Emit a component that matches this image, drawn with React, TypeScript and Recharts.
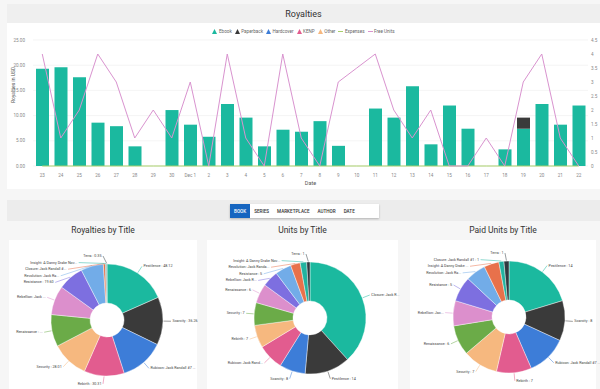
import React from "react";
import {
  ComposedChart,
  Bar,
  Line,
  XAxis,
  YAxis,
  CartesianGrid,
  Legend,
  PieChart,
  Pie,
  Cell,
} from "recharts";

// ---- daily royalties ----
const dates = [
  "23", "24", "25", "26", "27", "28", "29", "30", "Dec 1", "2",
  "3", "4", "5", "6", "7", "8", "9", "10", "11", "12",
  "13", "14", "15", "16", "17", "18", "19", "20", "21", "22",
];
const ebook = [
  19.3, 19.6, 17.6, 8.6, 7.9, 3.9, 0, 11.1, 8.2, 5.8,
  12.3, 9.6, 3.9, 7.2, 6.8, 8.9, 4.0, 0, 11.4, 9.6,
  15.8, 4.3, 12.0, 7.4, 0, 3.3, 7.4, 12.3, 8.2, 12.0,
];
const paperback = [
  0, 0, 0, 0, 0, 0, 0, 0, 0, 0,
  0, 0, 0, 0, 0, 0, 0, 0, 0, 0,
  0, 0, 0, 0, 0, 0, 2.2, 0, 0, 0,
];
const hardcover = [
  0, 0, 0, 0, 0, 0, 0, 0, 0, 0,
  0, 0, 0, 0, 0, 0, 0, 0, 0, 0,
  0, 0, 0, 0, 0, 0, 0, 0, 0, 0,
];
const kenp = [
  0, 0, 0, 0, 0, 0, 0, 0, 0, 0,
  0, 0, 0, 0, 0, 0, 0, 0, 0, 0,
  0, 0, 0, 0, 0, 0, 0, 0, 0, 0,
];
const other = [
  0, 0, 0, 0, 0, 0, 0, 0, 0, 0,
  0, 0, 0, 0, 0, 0, 0, 0, 0, 0,
  0, 0, 0, 0, 0, 0, 0, 0, 0, 0,
];
const expenses = [
  0, 0, 0, 0, 0, 0, 0, 0, 0, 0,
  0, 0, 0, 0, 0, 0, 0, 0, 0, 0,
  0, 0, 0, 0, 0, 0, 0, 0, 0, 0,
];
const freeUnits = [
  4, 1, 2, 4, 3, 1, 2, 1, 3, 0,
  4, 1, 0, 4, 1, 0, 3, 3.5, 4, 2,
  1, 2, 0, 0, 1, 0, 3, 4, 1, 0,
];
const usdTicks = [0, 5, 10, 15, 20, 25];
const unitTicks = [0, 0.5, 1, 1.5, 2, 2.5, 3, 3.5, 4, 4.5];

// ---- by title ----
const royaltyLabels = [
  "Pestilence : 48.12", "Scarcity : 36.26", "Rubicon: Jack Randall #7 ...", "Rebirth : 30.31",
  "Security : 28.01", "Renaissance : ...", "Rebellion: Jack ...", "Resistance : 19.60",
  "Revolution: Jack Ra...", "Closure: Jack Randall #...", "Insight: A Danny Drake Nov...", "Terra : 0.35",
];
const royaltyValues = [48.12, 36.26, 33.5, 30.31, 28.01, 24.2, 22.0, 19.6, 17.0, 1.6, 0.8, 0.35];

const unitLabels = [
  "Closure: Jack R...", "Pestilence : 14", "Scarcity : 8", "Rubicon: Jack Rand...",
  "Rebirth : 7", "Security : 7", "Renaissance : 6", "Rebellion: Jack R...",
  "Resistance : 5", "Revolution: Jack Randa...", "Insight: A Danny Drake Nov...", "Terra : 1",
];
const unitValues = [41, 14, 8, 8, 7, 7, 6, 5, 5, 3, 2, 1];

const paidLabels = [
  "Pestilence : 14", "Scarcity : 8", "Rubicon: Jack Randall #7 ...", "Rebirth : 7",
  "Security : 7", "Renaissance : 6", "Rebellion: Jac...", "Resistance : 5",
  "Revolution: Jack Ra...", "Insight: A Danny Drake ...", "Closure: Jack Randall #1 : 1", "Terra : 1",
];
const paidValues = [14, 8, 8, 7, 7, 6, 5, 5, 4, 3, 1, 1];

const tabs = ["BOOK", "SERIES", "MARKETPLACE", "AUTHOR", "DATE"];

const PALETTE = [
  "#1bb99f", "#3a3a3a", "#3d7dd8", "#e25c8f", "#f6b87f", "#6bab48",
  "#dc8fcc", "#7d6fe0", "#72ace8", "#e8714b", "#22b3a0", "#2e3a40",
];

const C = {
  ebook: "#1bb99f",
  paperback: "#3a3a3a",
  hardcover: "#3d7dd8",
  kenp: "#e25c8f",
  other: "#f6b87f",
  expenses: "#a8cf6a",
  free: "#d993cf",
};

const FONT = "Roboto, 'Noto Sans', sans-serif";

const royaltyRows = dates.map((d, i) => ({
  date: d,
  ebook: ebook[i],
  paperback: paperback[i],
  hardcover: hardcover[i],
  kenp: kenp[i],
  other: other[i],
  expenses: expenses[i],
  freeUnits: freeUnits[i],
}));

const legendItems = [
  { name: "Ebook", color: C.ebook, line: false },
  { name: "Paperback", color: C.paperback, line: false },
  { name: "Hardcover", color: C.hardcover, line: false },
  { name: "KENP", color: C.kenp, line: false },
  { name: "Other", color: C.other, line: false },
  { name: "Expenses", color: C.expenses, line: true },
  { name: "Free Units", color: C.free, line: true },
];

function RoyaltyLegend() {
  return (
    <div style={{ display: "flex", justifyContent: "center", gap: 3, fontFamily: FONT, fontSize: 4.6, color: "#666" }}>
      {legendItems.map((it) => (
        <span key={it.name} style={{ display: "flex", alignItems: "center", gap: 1.5 }}>
          <svg width={5} height={5}>
            {it.line ? (
              <line x1={0} y1={2.5} x2={5} y2={2.5} stroke={it.color} strokeWidth={1} />
            ) : (
              <path d="M2.5 0 L5 5 L0 5 Z" fill={it.color} />
            )}
          </svg>
          {it.name}
        </span>
      ))}
    </div>
  );
}

// label placement: spread labels on each side so they don't overlap
type LabelPos = { x: number; y: number; left: boolean };
function layoutLabels(values: number[], r: number, gap: number): LabelPos[] {
  const total = values.reduce((a, b) => a + b, 0);
  let acc = 0;
  const pos = values.map((v) => {
    const mid = 90 - ((acc + v / 2) / total) * 360;
    acc += v;
    const rad = (mid * Math.PI) / 180;
    return { x: r * Math.cos(rad), y: -r * Math.sin(rad), left: Math.cos(rad) < 0 };
  });
  [true, false].forEach((side) => {
    const idx = pos
      .map((_, i) => i)
      .filter((i) => pos[i].left === side)
      .sort((a, b) => pos[a].y - pos[b].y);
    for (let k = 1; k < idx.length; k++) {
      const prev = pos[idx[k - 1]];
      const cur = pos[idx[k]];
      if (cur.y < prev.y + gap) cur.y = prev.y + gap;
    }
    idx.forEach((i) => {
      const p = pos[i];
      const dx = Math.sqrt(Math.max(r * r - p.y * p.y, 16));
      p.x = side ? -dx : dx;
    });
  });
  return pos;
}

function TitlePie({ values, labels, width, cx, cy }: { values: number[]; labels: string[]; width: number; cx: number; cy: number }) {
  const outer = 56;
  const layout = layoutLabels(values, outer + 8, 6.6);
  const data = values.map((v, i) => ({ name: labels[i], value: v }));

  const renderLabel = (props: any) => {
    const { index, midAngle, outerRadius } = props;
    const p = layout[index];
    const rad = (-midAngle * Math.PI) / 180;
    const ex = props.cx + (outerRadius + 0.5) * Math.cos(rad);
    const ey = props.cy + (outerRadius + 0.5) * Math.sin(rad);
    const lx = props.cx + p.x;
    const ly = props.cy + p.y;
    return (
      <g>
        <polyline
          points={`${ex},${ey} ${lx},${ly}`}
          fill="none"
          stroke={PALETTE[index % PALETTE.length]}
          strokeWidth={0.5}
        />
        <text
          x={p.left ? lx - 1.5 : lx + 1.5}
          y={ly}
          textAnchor={p.left ? "end" : "start"}
          dominantBaseline="central"
          fontSize={3.7}
          fontFamily={FONT}
          fill="#444"
        >
          {labels[index]}
        </text>
      </g>
    );
  };

  return (
    <PieChart width={width} height={149}>
      <Pie
        data={data}
        dataKey="value"
        nameKey="name"
        cx={cx}
        cy={cy}
        innerRadius={17}
        outerRadius={outer}
        startAngle={90}
        endAngle={-270}
        stroke="#fff"
        strokeWidth={0.4}
        label={renderLabel}
        labelLine={false}
        isAnimationActive={false}
      >
        {data.map((_, i) => (
          <Cell key={`cell-${i}`} fill={PALETTE[i % PALETTE.length]} />
        ))}
      </Pie>
    </PieChart>
  );
}

const abs = (l: number, t: number, w: number, h: number, extra: React.CSSProperties = {}): React.CSSProperties => ({
  position: "absolute",
  left: l,
  top: t,
  width: w,
  height: h,
  ...extra,
});

export default function App() {
  const tick = { fontSize: 4.6, fill: "#888", fontFamily: FONT };
  return (
    <div style={{ position: "relative", width: 600, height: 389, background: "#f6f6f6", overflow: "hidden", fontFamily: FONT }}>
      <style>{`body{margin:0}`}</style>

      {/* top card */}
      <div style={abs(7, 4, 593, 19, { background: "#efefef", display: "flex", alignItems: "center", justifyContent: "center", fontSize: 9, color: "#333" })}>
        Royalties
      </div>
      <div style={abs(7, 23, 593, 166, { background: "#fff" })}>
        <ComposedChart width={593} height={166} data={royaltyRows} margin={{ top: 16, right: 0, bottom: 0, left: 0 }} barSize={13}>
          <CartesianGrid vertical={false} stroke="#ececec" strokeWidth={0.6} yAxisId="left" />
          <XAxis
            dataKey="date"
            axisLine={false}
            tickLine={false}
            interval={0}
            height={23}
            tick={tick}
            label={{ value: "Date", position: "insideBottom", offset: 4, fontSize: 5.5, fill: "#555", fontFamily: FONT }}
          />
          <YAxis
            yAxisId="left"
            domain={[0, 25]}
            ticks={usdTicks}
            tickFormatter={(v: number) => v.toFixed(2)}
            width={26}
            axisLine={false}
            tickLine={false}
            tick={tick}
            label={{ value: "Royalties in USD", angle: -90, position: "insideLeft", offset: 6, fontSize: 5, fill: "#555", fontFamily: FONT }}
          />
          <YAxis
            yAxisId="right"
            orientation="right"
            domain={[0, 4.5]}
            ticks={unitTicks}
            width={12}
            axisLine={false}
            tickLine={false}
            tickSize={1}
            tickMargin={2}
            tick={tick}
          />
          <Legend verticalAlign="top" height={1} wrapperStyle={{ top: 6 }} content={() => <RoyaltyLegend />} />
          <Bar yAxisId="left" dataKey="ebook" name="Ebook" stackId="a" fill={C.ebook} isAnimationActive={false} />
          <Bar yAxisId="left" dataKey="paperback" name="Paperback" stackId="a" fill={C.paperback} isAnimationActive={false} />
          <Bar yAxisId="left" dataKey="hardcover" name="Hardcover" stackId="a" fill={C.hardcover} isAnimationActive={false} />
          <Bar yAxisId="left" dataKey="kenp" name="KENP" stackId="a" fill={C.kenp} isAnimationActive={false} />
          <Bar yAxisId="left" dataKey="other" name="Other" stackId="a" fill={C.other} isAnimationActive={false} />
          <Line yAxisId="left" dataKey="expenses" name="Expenses" type="linear" stroke={C.expenses} strokeWidth={1} dot={false} isAnimationActive={false} />
          <Line yAxisId="right" dataKey="freeUnits" name="Free Units" type="linear" stroke={C.free} strokeWidth={1} dot={false} isAnimationActive={false} />
        </ComposedChart>
      </div>

      {/* tab bar */}
      <div style={abs(7, 200, 593, 21, { background: "#ececec" })} />
      <div style={abs(230, 204, 149, 14, { background: "#fff", boxShadow: "0 1px 2px rgba(0,0,0,0.25)", display: "flex", alignItems: "stretch", fontSize: 4.6, fontWeight: 500 })}>
        {tabs.map((t, i) => (
          <div
            key={t}
            style={{
              padding: "0 4px",
              display: "flex",
              alignItems: "center",
              background: i === 0 ? "#1565c0" : "transparent",
              color: i === 0 ? "#fff" : "#333",
            }}
          >
            {t}
          </div>
        ))}
      </div>

      {/* titles */}
      <div style={abs(9, 222, 188, 16, { display: "flex", alignItems: "center", justifyContent: "center", fontSize: 8.5, color: "#333" })}>Royalties by Title</div>
      <div style={abs(207, 222, 191, 16, { display: "flex", alignItems: "center", justifyContent: "center", fontSize: 8.5, color: "#333" })}>Units by Title</div>
      <div style={abs(410, 222, 186, 16, { display: "flex", alignItems: "center", justifyContent: "center", fontSize: 8.5, color: "#333" })}>Paid Units by Title</div>

      {/* pie cards (chart svgs may reach a little past the card edge for labels) */}
      <div style={abs(9, 240, 188, 149, { background: "#fff" })}>
        <TitlePie values={royaltyValues} labels={royaltyLabels} width={196} cx={93} cy={75} />
      </div>
      <div style={abs(207, 240, 191, 149, { background: "#fff" })}>
        <TitlePie values={unitValues} labels={unitLabels} width={200} cx={98} cy={73} />
      </div>
      <div style={abs(410, 240, 186, 149, { background: "#fff" })}>
        <TitlePie values={paidValues} labels={paidLabels} width={190} cx={94} cy={72} />
      </div>
    </div>
  );
}
